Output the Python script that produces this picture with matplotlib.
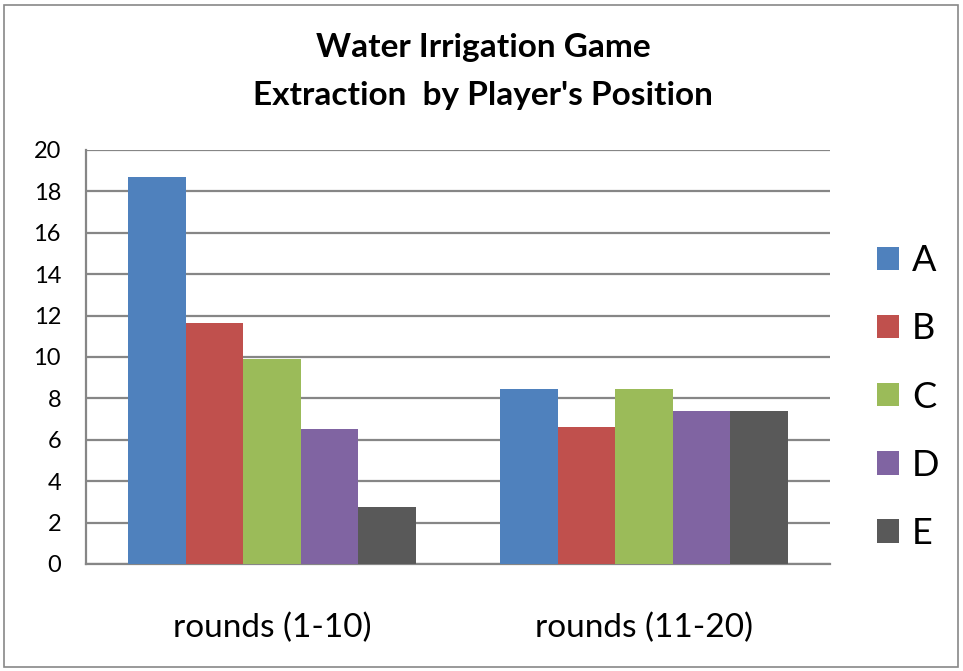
import matplotlib
matplotlib.use("Agg")
import matplotlib.pyplot as plt
import numpy as np
from matplotlib.patches import Rectangle

categories = ["rounds (1-10)", "rounds (11-20)"]
series_names = ["A", "B", "C", "D", "E"]
A = [18.7, 8.45]
B = [11.65, 6.6]
C = [9.9, 8.45]
D = [6.5, 7.4]
E = [2.75, 7.4]
colors = ["#4F81BD", "#C0504D", "#9BBB59", "#8064A2", "#595959"]
yticks = [0, 2, 4, 6, 8, 10, 12, 14, 16, 18, 20]

plt.rcParams['font.family'] = ['Lato', 'DejaVu Sans']

W, H = 963, 671
fig = plt.figure(figsize=(W / 100, H / 100), dpi=100)
fig.patches.append(Rectangle((4 / W, 4 / H), 1 - 9 / W, 1 - 9 / H, transform=fig.transFigure,
                             fill=False, edgecolor="#888888", linewidth=1.2))

ax = fig.add_axes([86 / W, 1 - 564 / H, (830 - 86) / W, (564 - 150) / H])
x = np.arange(len(categories))
bw = 0.155
data = [A, B, C, D, E]
for i, (name, vals, col) in enumerate(zip(series_names, data, colors)):
    ax.bar(x + (i - 2) * bw, vals, width=bw, color=col, label=name, zorder=3)

ax.set_xlim(-0.5, 1.5)
ax.set_ylim(0, 20)
ax.set_yticks(yticks)
ax.set_yticklabels([str(t) for t in yticks], fontsize=17)
ax.set_xticks(x)
ax.set_xticklabels(categories, fontsize=24)
ax.tick_params(axis='y', length=0, pad=18)
ax.tick_params(axis='x', length=0, pad=35)
ax.yaxis.grid(True, color="#868686", linewidth=1.6, zorder=0)
for s in ["top", "right"]:
    ax.spines[s].set_visible(False)
for s in ["left", "bottom"]:
    ax.spines[s].set_color("#868686")
    ax.spines[s].set_linewidth(1.6)

fig.text(483 / W, 1 - 48 / H, "Water Irrigation Game", ha="center", va="center",
         fontsize=24, fontweight="bold")
fig.text(483 / W, 1 - 95 / H, "Extraction  by Player's Position", ha="center", va="center",
         fontsize=24, fontweight="bold")

leg = fig.legend(loc="center left", bbox_to_anchor=(877 / W, 1 - 397 / H), frameon=False,
                 fontsize=26, handlelength=0.62, handleheight=0.62, handletextpad=0.35,
                 labelspacing=0.97, borderpad=0, borderaxespad=0)

fig.savefig("out.png", dpi=100)
